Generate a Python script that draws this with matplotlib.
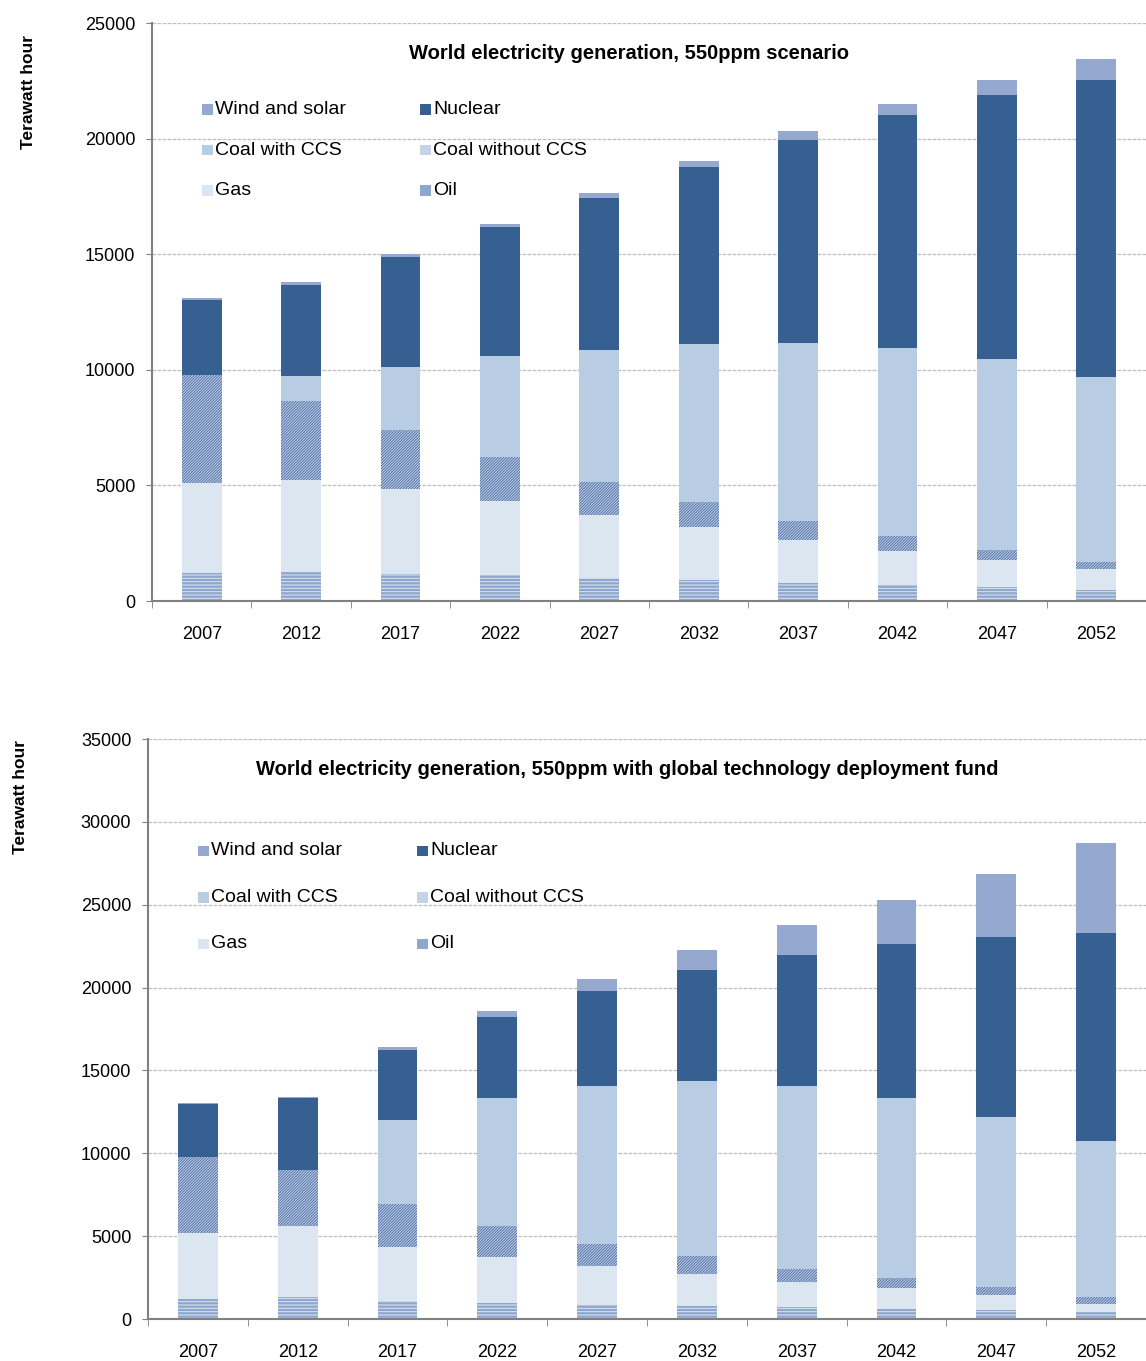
import matplotlib
matplotlib.use("Agg")
import matplotlib.pyplot as plt
import numpy as np

years = ["2007", "2012", "2017", "2022", "2027", "2032", "2037", "2042", "2047", "2052"]
series = ["Oil", "Gas", "Coal without CCS", "Coal with CCS", "Nuclear", "Wind and solar"]

# cumulative stack tops (TWh), bottom to top: oil, gas, coal w/o CCS, coal CCS, nuclear, wind
top_oil = [1210, 1250, 1170, 1120, 1000, 910, 780, 690, 600, 480]
top_gas = [5100, 5230, 4840, 4330, 3720, 3200, 2640, 2160, 1770, 1380]
top_coal = [9770, 8650, 7400, 6230, 5150, 4280, 3460, 2810, 2200, 1690]
top_ccs = [9770, 9730, 10120, 10600, 10860, 11120, 11160, 10940, 10470, 9690]
top_nuc = [13000, 13670, 14880, 16180, 17430, 18770, 19940, 21020, 21890, 22530]
top_wind = [13100, 13800, 15000, 16300, 17650, 19030, 20330, 21500, 22530, 23440]

fund_oil = [1200, 1330, 1090, 970, 840, 780, 720, 600, 540, 420]
fund_gas = [5190, 5610, 4350, 3740, 3200, 2720, 2230, 1870, 1450, 900]
fund_coal = [9780, 9000, 6940, 5610, 4530, 3800, 3020, 2470, 1930, 1330]
fund_ccs = [9780, 9000, 12000, 13340, 14060, 14360, 14060, 13340, 12190, 10740]
fund_nuc = [12980, 13340, 16230, 18230, 19800, 21060, 21970, 22630, 23050, 23300]
fund_wind = [13040, 13400, 16420, 18590, 20520, 22270, 23780, 25290, 26860, 28730]

styles = {
    "Oil": dict(color="#8FA7CD", hatch="-----", edgecolor="#DCE6F1"),
    "Gas": dict(color="#DCE6F1"),
    "Coal without CCS": dict(color="#C5D3E8", hatch="////////////", edgecolor="#4F70A6"),
    "Coal with CCS": dict(color="#B8CCE4"),
    "Nuclear": dict(color="#366092"),
    "Wind and solar": dict(color="#95A9D0"),
}
legend_order = ["Wind and solar", "Nuclear", "Coal with CCS", "Coal without CCS", "Gas", "Oil"]

plt.rcParams["font.family"] = ["Liberation Sans", "DejaVu Sans"]
plt.rcParams["hatch.linewidth"] = 0.7

fig = plt.figure(figsize=(11.46, 13.61), dpi=100)
ax1 = fig.add_axes([152 / 1146, 1 - 601 / 1361, 1 - 152 / 1146, 578 / 1361])
ax2 = fig.add_axes([148 / 1146, 1 - 1319 / 1361, 1 - 148 / 1146, 580 / 1361])


def draw(ax, tops, ymax, title, leg_y, leg_dy):
    x = np.arange(len(years))
    tops = np.array(tops, dtype=float)
    bottoms = np.vstack([np.zeros(len(years)), tops[:-1]])
    for name, b, t in zip(series, bottoms, tops):
        ax.bar(x, t - b, 0.4, bottom=b, linewidth=0, **styles[name])
    ax.set_xlim(-0.5, len(years) - 0.5)
    ax.set_ylim(0, ymax)
    ax.set_yticks(np.arange(0, ymax + 1, 5000))
    ax.tick_params(axis="y", labelsize=13, length=4, color="#808080", pad=8)
    ax.set_xticks(x, years)
    ax.set_xticks(np.arange(-0.5, len(years)), minor=True)
    ax.tick_params(axis="x", which="major", length=0, labelsize=13, pad=18)
    ax.tick_params(axis="x", which="minor", length=5, direction="out", color="#808080")
    ax.grid(axis="y", linestyle=(0, (3, 1)), color="#BFBFBF", linewidth=0.9)
    ax.set_axisbelow(True)
    for s in ["top", "right"]:
        ax.spines[s].set_visible(False)
    for s in ["left", "bottom"]:
        ax.spines[s].set_color("#808080")
        ax.spines[s].set_linewidth(1.5)
    ax.set_ylabel("Terawatt hour", fontsize=12.5, fontweight="bold")
    ax.text(0.48, 0.947, title, transform=ax.transAxes, ha="center", va="center",
            fontsize=14.5, fontweight="bold")
    # legend laid out in two columns, three rows
    for i, name in enumerate(legend_order):
        col, row = i % 2, i // 2
        lx = 0.05 + col * 0.22
        ly = leg_y - row * leg_dy
        ax.add_patch(plt.Rectangle((lx, ly - 0.009), 0.011, 0.018, transform=ax.transAxes,
                                   linewidth=0, clip_on=False, **styles[name]))
        ax.text(lx + 0.013, ly, name, transform=ax.transAxes, va="center", fontsize=14)


draw(ax1, [top_oil, top_gas, top_coal, top_ccs, top_nuc, top_wind], 25000,
     "World electricity generation, 550ppm scenario", 0.85, 0.07)
draw(ax2, [fund_oil, fund_gas, fund_coal, fund_ccs, fund_nuc, fund_wind], 35000,
     "World electricity generation, 550ppm with global technology deployment fund", 0.807, 0.08)
ax1.yaxis.set_label_coords(-0.117, 0.88)
ax2.yaxis.set_label_coords(-0.12, 0.9)

fig.savefig("out.png", dpi=100)
